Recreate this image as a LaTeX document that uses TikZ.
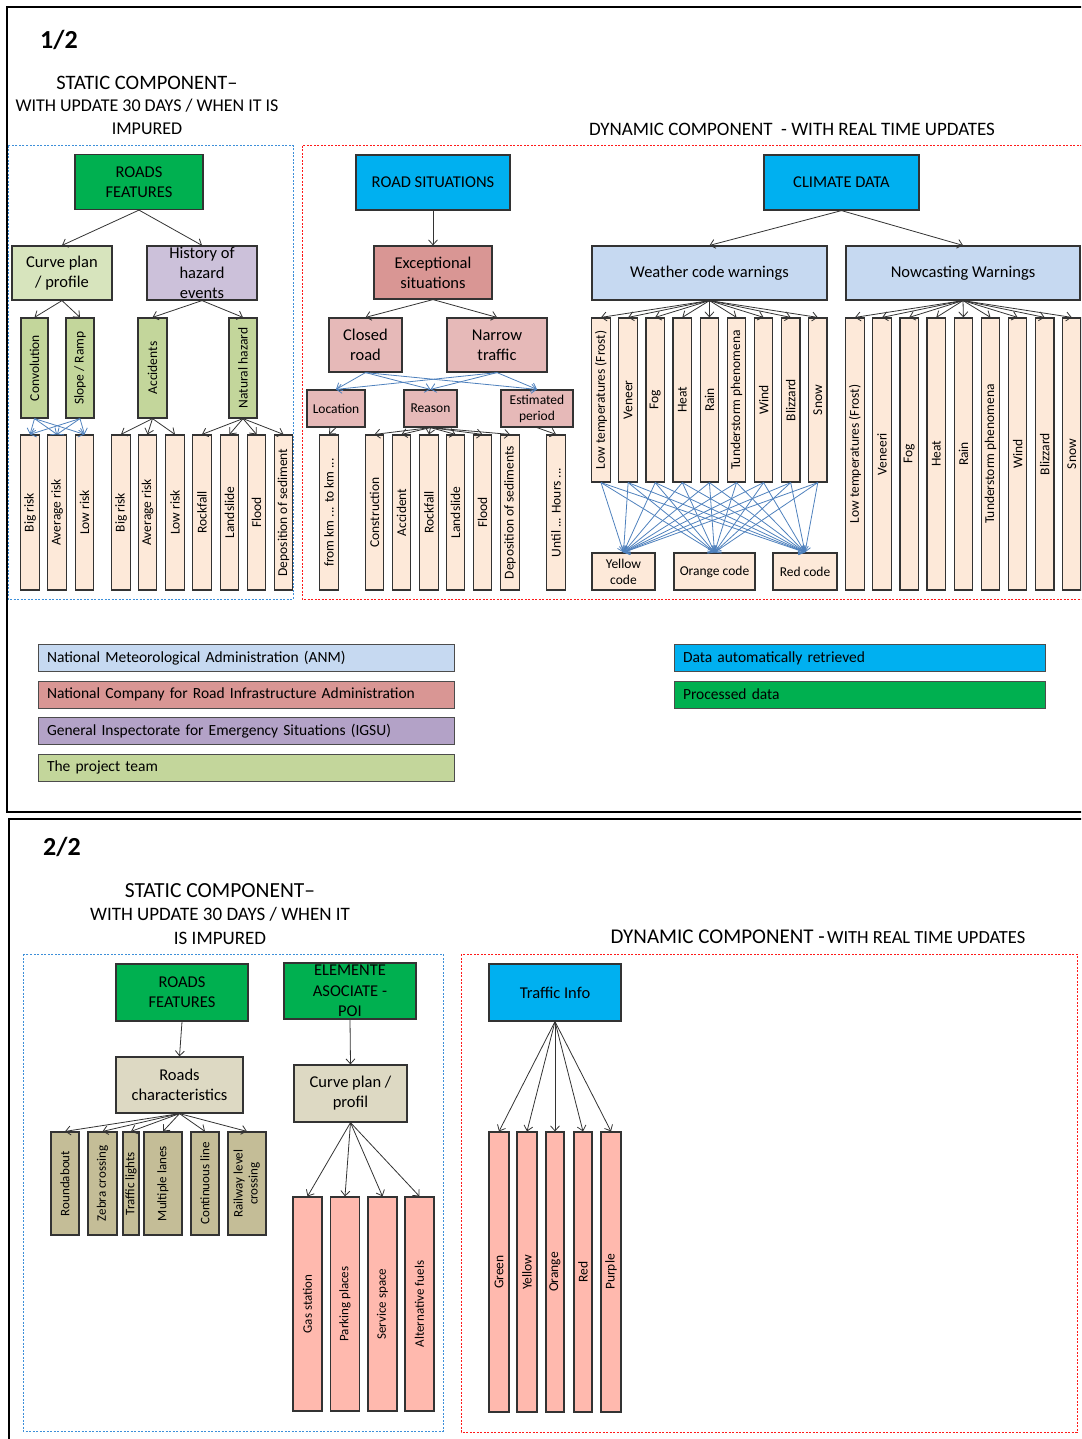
\documentclass[tikz,border=0pt]{standalone}
\usepackage{fontspec}
\setmainfont{Carlito}
\usepackage{graphicx}
\usetikzlibrary{arrows.meta}

\newcommand{\rottext}[1]{\rotatebox{90}{#1}}

\definecolor{procgreen}{HTML}{00B050}
\definecolor{autoblue}{HTML}{00B0F0}
\definecolor{curvegreen}{HTML}{D7E4BD}
\definecolor{teamgreen}{HTML}{C3D69B}
\definecolor{hazlilac}{HTML}{CCC1DA}
\definecolor{igsulilac}{HTML}{B3A2C7}
\definecolor{peach}{HTML}{FDE9D9}
\definecolor{cnairrose}{HTML}{D99694}
\definecolor{cnairpink}{HTML}{E6B9B8}
\definecolor{anmblue}{HTML}{C6D9F1}
\definecolor{sandtan}{HTML}{DDD9C3}
\definecolor{darktan}{HTML}{C4BD97}
\definecolor{poisalmon}{HTML}{FFB9AE}
\definecolor{linkblue}{HTML}{4F81BD}
\definecolor{staticblue}{HTML}{3D8FD9}
\definecolor{dynred}{HTML}{FF1A1A}

\tikzset{
  box/.style={draw=black!80, line width=1.2pt, inner sep=0pt, align=center, font=\fontsize{16.5}{20}\selectfont},
  sbox/.style={box, font=\fontsize{13.5}{16}\selectfont},
  leafA/.style={sbox, fill=peach, minimum width=18.5pt, minimum height=155pt},
  leafW/.style={sbox, fill=peach, minimum width=18.5pt, minimum height=164pt},
  leafN/.style={sbox, fill=peach, minimum width=18.5pt, minimum height=272pt},
  leafR/.style={sbox, fill=darktan, minimum height=103pt, font=\fontsize{13}{15}\selectfont},
  leafP/.style={sbox, fill=poisalmon, minimum width=29pt, minimum height=214pt, font=\fontsize{13}{15}\selectfont},
  leafT/.style={sbox, fill=poisalmon, minimum height=280pt, font=\fontsize{13.5}{16}\selectfont},
  legend/.style={draw=black!70, line width=1pt, minimum height=27pt, inner xsep=9pt, inner ysep=0pt, align=left, font=\fontsize{15.5}{18}\selectfont},
  arr/.style={-{Straight Barb[length=5pt,width=9pt]}, line width=0.8pt, draw=black!80},
  barr/.style={arr, draw=linkblue},
  frame/.style={line width=2pt, black},
  staticarea/.style={draw=staticblue, line width=1pt, dash pattern=on 2pt off 1.5pt},
  dynamicarea/.style={draw=dynred, line width=1pt, dash pattern=on 2pt off 1.5pt},
}

\begin{document}
\begin{tikzpicture}[x=1pt, y=-1pt]
  \useasboundingbox (0,0) rectangle (1081,1439);
  \clip (0,0) rectangle (1081,1439);

  % Frames of both parts
  \draw[frame] (1100,7) -- (7,7) -- (7,812) -- (1100,812);
  \draw[frame] (1100,819) -- (9,819) -- (9,1450);

  % ---------------- Part 1/2 ----------------
  \node[font=\fontsize{26}{30}\selectfont\bfseries] (parta) at (59,40) {1/2};
  \node[align=center, font=\fontsize{18}{22.5}\selectfont] (statica) at (147,105)
    {{\fontsize{20.5}{22.5}\selectfont STATIC COMPONENT–}\\WITH UPDATE 30 DAYS / WHEN IT IS\\IMPURED};
  \node[font=\fontsize{19}{22}\selectfont] (dynama) at (792,129) {DYNAMIC COMPONENT\ \ - WITH REAL TIME UPDATES};

  \draw[staticarea] (8,146) rectangle (293,599);
  \draw[dynamicarea] (302,146) rectangle (1100,599);

  % Static component: roads features
  \node[box, fill=procgreen, minimum width=128pt, minimum height=55pt] (roadsf) at (139,182) {ROADS\\FEATURES};
  \node[box, fill=curvegreen, minimum width=100pt, minimum height=54pt] (curveplan) at (62,273) {Curve plan\\/ profile};
  \node[box, fill=hazlilac, minimum width=110pt, minimum height=54pt,
    label={[font=\fontsize{16.5}{20}\selectfont, align=center]center:History of\\hazard\\events}] (history) at (202,273) {};
  \draw[arr] (roadsf.south) -- (curveplan.north);
  \draw[arr] (roadsf.south) -- (history.north);

  \node[sbox, fill=teamgreen, minimum width=27pt, minimum height=100pt] (conv) at (34.5,368) {\rottext{Convolution}};
  \node[sbox, fill=teamgreen, minimum width=28pt, minimum height=100pt] (slope) at (80,368) {\rottext{Slope / Ramp}};
  \node[sbox, fill=teamgreen, minimum width=29pt, minimum height=100pt] (accid) at (152.5,368) {\rottext{Accidents}};
  \node[sbox, fill=teamgreen, minimum width=28pt, minimum height=100pt] (nathaz) at (243,368) {\rottext{Natural hazard}};
  \draw[arr] (curveplan.south) -- (conv.north);
  \draw[arr] (curveplan.south) -- (slope.north);
  \draw[arr] (history.south) -- (accid.north);
  \draw[arr] (history.south) -- (nathaz.north);

  \node[leafA] (bigr1) at (30,512.5) {\rottext{Big risk}};
  \node[leafA] (avgr1) at (57,512.5) {\rottext{Average risk}};
  \node[leafA] (lowr1) at (84.5,512.5) {\rottext{Low risk}};
  \node[leafA] (bigr2) at (121,512.5) {\rottext{Big risk}};
  \node[leafA] (avgr2) at (147.5,512.5) {\rottext{Average risk}};
  \node[leafA] (lowr2) at (175,512.5) {\rottext{Low risk}};
  \node[leafA] (rockf1) at (202,512.5) {\rottext{Rockfall}};
  \node[leafA] (lands1) at (229.5,512.5) {\rottext{Landslide}};
  \node[leafA] (flood1) at (256.5,512.5) {\rottext{Flood}};
  \node[leafA] (depos1) at (283.5,512.5) {\rottext{Deposition of sediment}};
  \foreach \n in {bigr1,avgr1,lowr1} {
    \draw[barr] (conv.south) -- (\n.north);
    \draw[barr] (slope.south) -- (\n.north);
  }
  \foreach \n in {bigr2,avgr2,lowr2} \draw[arr] (accid.south) -- (\n.north);
  \foreach \n in {rockf1,lands1,flood1,depos1} \draw[arr] (nathaz.south) -- (\n.north);

  % Dynamic component: road situations
  \node[box, fill=autoblue, minimum width=154pt, minimum height=55pt] (roadsit) at (433,182.5) {ROAD SITUATIONS};
  \node[box, fill=cnairrose, minimum width=118pt, minimum height=53pt] (except) at (433,272.5) {Exceptional\\situations};
  \node[box, fill=cnairpink, minimum width=73pt, minimum height=54pt] (closed) at (365.5,345) {Closed\\road};
  \node[box, fill=cnairpink, minimum width=100pt, minimum height=54pt] (narrow) at (497,345) {Narrow\\traffic};
  \node[sbox, fill=cnairpink, minimum width=58pt, minimum height=37pt] (loc) at (336,408.5) {Location};
  \node[sbox, fill=cnairpink, minimum width=53pt, minimum height=37pt] (reason) at (430.5,408.5) {Reason};
  \node[sbox, fill=cnairpink, minimum width=72pt, minimum height=37pt] (estper) at (537,408.5) {Estimated\\period};
  \draw[arr] (roadsit.south) -- (except.north);
  \draw[arr] (except.south) -- (closed.north);
  \draw[arr] (except.south) -- (narrow.north);
  \foreach \n in {loc,reason,estper} {
    \draw[barr] (closed.south) -- (\n.north);
    \draw[barr] (narrow.south) -- (\n.north);
  }

  \node[leafA] (fromkm) at (329,512.5) {\rottext{from km ... to km ...}};
  \node[leafA] (constr) at (374.5,512.5) {\rottext{Construction}};
  \node[leafA] (accdt) at (401.5,512.5) {\rottext{Accident}};
  \node[leafA] (rockf2) at (429,512.5) {\rottext{Rockfall}};
  \node[leafA] (lands2) at (455.5,512.5) {\rottext{Landslide}};
  \node[leafA] (flood2) at (482.5,512.5) {\rottext{Flood}};
  \node[leafA] (depos2) at (510,512.5) {\rottext{Deposition of sediments}};
  \node[leafA] (until) at (556,512.5) {\rottext{Until ... Hours ...}};
  \draw[arr] (loc.south) -- (fromkm.north);
  \foreach \n in {constr,accdt,rockf2,lands2,flood2,depos2} \draw[arr] (reason.south) -- (\n.north);
  \draw[arr] (estper.south) -- (until.north);

  % Dynamic component: climate data
  \node[box, fill=autoblue, minimum width=155pt, minimum height=55pt] (climate) at (841.5,182.5) {CLIMATE DATA};
  \node[box, fill=anmblue, minimum width=235pt, minimum height=54pt] (weather) at (709.5,273) {Weather code warnings};
  \node[box, fill=anmblue, minimum width=234pt, minimum height=54pt] (nowcast) at (963,273) {Nowcasting Warnings};
  \draw[arr] (climate.south) -- (weather.north);
  \draw[arr] (climate.south) -- (nowcast.north);

  \foreach \t [count=\i] in {Low temperatures (Frost),Veneer,Fog,Heat,Rain,Tunderstorm phenomena,Wind,Blizzard,Snow} {
    \node[leafW] (w\i) at ({601+27.1*(\i-1)},400) {\rottext{\t}};
    \draw[arr] (weather.south) -- (w\i.north);
  }
  \foreach \t [count=\i] in {Low temperatures (Frost),Veneeri,Fog,Heat,Rain,Tunderstorm phenomena,Wind,Blizzard,Snow} {
    \node[leafN] (n\i) at ({855+27.1*(\i-1)},454) {\rottext{\t}};
    \draw[arr] (nowcast.south) -- (n\i.north);
  }

  \node[sbox, fill=peach, minimum width=63pt, minimum height=37pt] (ycode) at (623.5,571.5) {Yellow\\code};
  \node[sbox, fill=peach, minimum width=81pt, minimum height=37pt] (ocode) at (714.5,571.5) {Orange code};
  \node[sbox, fill=peach, minimum width=64pt, minimum height=37pt] (rcode) at (805,571.5) {Red code};
  \foreach \i in {1,...,9}
    \foreach \c in {ycode,ocode,rcode}
      \draw[barr] (w\i.south) -- (\c.north);

  % Legend
  \node[legend, fill=anmblue, text width=398pt] (legA) at (246,658) {National Meteorological Administration (ANM)};
  \node[legend, fill=cnairrose, text width=398pt] (legB) at (246,694.5) {National Company for Road Infrastructure Administration};
  \node[legend, fill=igsulilac, text width=398pt] (legC) at (246,731) {General Inspectorate for Emergency Situations (IGSU)};
  \node[legend, fill=teamgreen, text width=398pt] (legD) at (246,767.5) {The project team};
  \node[legend, fill=autoblue, text width=353pt] (legE) at (859.5,658) {Data automatically retrieved};
  \node[legend, fill=procgreen, text width=353pt] (legF) at (859.5,694.5) {Processed data};

  % ---------------- Part 2/2 ----------------
  \node[font=\fontsize{26}{30}\selectfont\bfseries] (partb) at (62,847) {2/2};
  \node[align=center, font=\fontsize{19}{23.5}\selectfont] (staticb) at (220,914)
    {{\fontsize{21.5}{23.5}\selectfont STATIC COMPONENT–}\\WITH UPDATE 30 DAYS / WHEN IT\\IS IMPURED};
  \node (dynamb) at (818,937) {{\fontsize{21}{24}\selectfont DYNAMIC COMPONENT -} {\fontsize{18.5}{22}\selectfont WITH REAL TIME UPDATES}};

  \draw[staticarea] (23,954) rectangle (443,1431);
  \draw[dynamicarea] (461,954) rectangle (1077,1432);

  % Static component: roads and points of interest
  \node[box, fill=procgreen, minimum width=132pt, minimum height=57pt] (roadsf2) at (182,992.5) {ROADS\\FEATURES};
  \node[box, fill=procgreen, minimum width=132pt, minimum height=56pt,
    label={[font=\fontsize{16.5}{20.5}\selectfont, align=center]center:ELEMENTE\\ASOCIATE -\\POI}] (elem) at (350,991) {};
  \node[box, fill=sandtan, minimum width=127pt, minimum height=56pt] (roadch) at (179.5,1085) {Roads\\characteristics};
  \node[box, fill=sandtan, minimum width=113pt, minimum height=57pt] (curvep) at (350.5,1093.5) {Curve plan /\\profil};
  \draw[arr] (roadsf2.south) -- (roadch.north);
  \draw[arr] (elem.south) -- (curvep.north);

  \node[leafR, minimum width=28pt] (roundab) at (65,1183.5) {\rottext{Roundabout}};
  \node[leafR, minimum width=29pt] (zebra) at (102.5,1183.5) {\rottext{Zebra crossing}};
  \node[leafR, minimum width=16pt] (tlights) at (131,1183.5) {\rottext{Traffic lights}};
  \node[leafR, minimum width=38pt] (mlanes) at (163,1183.5) {\rottext{Multiple lanes}};
  \node[leafR, minimum width=28pt] (cline) at (205,1183.5) {\rottext{Continuous line}};
  \node[leafR, minimum width=38pt] (railx) at (247,1183.5) {\rottext{\begin{tabular}{@{}c@{}}Railway level\\crossing\end{tabular}}};
  \foreach \n in {roundab,zebra,tlights,mlanes,cline,railx} \draw[arr] (roadch.south) -- (\n.north);

  \node[leafP] (gas) at (307.5,1304) {\rottext{Gas station}};
  \node[leafP] (parking) at (345,1304) {\rottext{Parking places}};
  \node[leafP] (service) at (382.5,1304) {\rottext{Service space}};
  \node[leafP] (altfuel) at (419.5,1304) {\rottext{Alternative fuels}};
  \foreach \n in {gas,parking,service,altfuel} \draw[arr] (curvep.south) -- (\n.north);

  % Dynamic component: traffic info
  \node[box, fill=autoblue, minimum width=132pt, minimum height=57pt] (trinfo) at (555,992.5) {Traffic Info};
  \node[leafT, minimum width=20pt] (tgreen) at (499,1272) {\rottext{Green}};
  \node[leafT, minimum width=20pt] (tyellow) at (527,1272) {\rottext{Yellow}};
  \node[leafT, minimum width=18pt] (torange) at (555,1272) {\rottext{Orange}};
  \node[leafT, minimum width=18pt] (tred) at (583,1272) {\rottext{Red}};
  \node[leafT, minimum width=20pt] (tpurple) at (611,1272) {\rottext{Purple}};
  \foreach \n in {tgreen,tyellow,torange,tred,tpurple} \draw[arr] (trinfo.south) -- (\n.north);
\end{tikzpicture}
\end{document}
